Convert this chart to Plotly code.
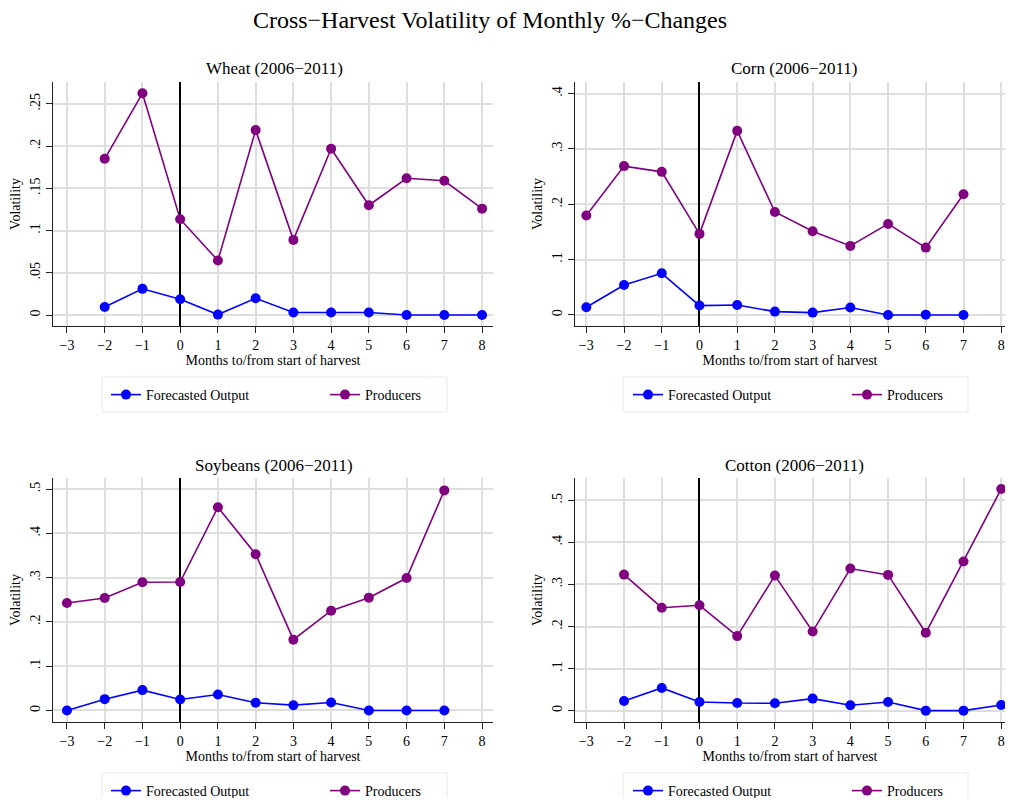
import plotly.graph_objects as go

# months relative to start of harvest
wheat_months = [-2, -1, 0, 1, 2, 3, 4, 5, 6, 7, 8]
wheat_forecast = [0.0095, 0.031, 0.0186, 0.0005, 0.0198, 0.003, 0.003, 0.003, 0.0, 0.0, 0.0]
wheat_producers = [0.185, 0.2626, 0.1135, 0.0645, 0.219, 0.089, 0.197, 0.130, 0.162, 0.159, 0.126]

corn_months = [-3, -2, -1, 0, 1, 2, 3, 4, 5, 6, 7]
corn_forecast = [0.0139, 0.0542, 0.0753, 0.0169, 0.018, 0.006, 0.0042, 0.0133, 0.0, 0.0005, 0.0]
corn_producers = [0.1796, 0.269, 0.2586, 0.1465, 0.3327, 0.186, 0.1513, 0.1248, 0.1645, 0.1217, 0.218]

soy_months = [-3, -2, -1, 0, 1, 2, 3, 4, 5, 6, 7]
soy_forecast = [0.0, 0.0256, 0.046, 0.0249, 0.036, 0.0173, 0.012, 0.018, 0.0, 0.0, 0.0]
soy_producers = [0.2428, 0.254, 0.2896, 0.290, 0.459, 0.353, 0.160, 0.2254, 0.2548, 0.299, 0.497]

cotton_months = [-2, -1, 0, 1, 2, 3, 4, 5, 6, 7, 8]
cotton_forecast = [0.023, 0.054, 0.0206, 0.018, 0.0174, 0.0286, 0.0127, 0.0206, 0.0, 0.0, 0.0135]
cotton_producers = [0.3234, 0.2447, 0.2504, 0.1772, 0.321, 0.188, 0.3377, 0.3227, 0.185, 0.3545, 0.527]

x_ticks = [-3, -2, -1, 0, 1, 2, 3, 4, 5, 6, 7, 8]
x_ticktext = ["\u22123", "\u22122", "\u22121", "0", "1", "2", "3", "4", "5", "6", "7", "8"]
wheat_yticks = [0, 0.05, 0.1, 0.15, 0.2, 0.25]
wheat_ytext = ["0", ".05", ".1", ".15", ".2", ".25"]
corn_yticks = [0, 0.1, 0.2, 0.3, 0.4]
corn_ytext = ["0", ".1", ".2", ".3", ".4"]
half_yticks = [0, 0.1, 0.2, 0.3, 0.4, 0.5]
half_ytext = ["0", ".1", ".2", ".3", ".4", ".5"]

# page body has an 8px margin all round, keep the figure inside the window
OFF = 8
W, H = 1013 - 2 * OFF, 806 - 2 * OFF
FONT = "Liberation Serif"
BLUE = "#0000ff"
PURPLE = "#800080"
GRID = "#dedede"


def px(x):
    return (x - OFF) / W


def py(y):
    return 1 - (y - OFF) / H


panels = [
    dict(title="Wheat (2006\u22122011)", months=wheat_months, fc=wheat_forecast, pr=wheat_producers,
         xdom=[53, 493], ydom=[82, 326], xr=[-3.37, 8.29], yr=[-0.013, 0.276],
         yt=wheat_yticks, ytt=wheat_ytext, title_y=69, legend_top=377),
    dict(title="Corn (2006\u22122011)", months=corn_months, fc=corn_forecast, pr=corn_producers,
         xdom=[575, 1005], ydom=[82, 326], xr=[-3.30, 8.1], yr=[-0.020, 0.421],
         yt=corn_yticks, ytt=corn_ytext, title_y=69, legend_top=377),
    dict(title="Soybeans (2006\u22122011)", months=soy_months, fc=soy_forecast, pr=soy_producers,
         xdom=[53, 493], ydom=[478, 722], xr=[-3.37, 8.29], yr=[-0.026, 0.525],
         yt=half_yticks, ytt=half_ytext, title_y=465, legend_top=773),
    dict(title="Cotton (2006\u22122011)", months=cotton_months, fc=cotton_forecast, pr=cotton_producers,
         xdom=[575, 1005], ydom=[478, 722], xr=[-3.30, 8.1], yr=[-0.027, 0.553],
         yt=half_yticks, ytt=half_ytext, title_y=465, legend_top=773),
]

fig = go.Figure()
layout = dict(
    width=W, height=H,
    margin=dict(l=0, r=0, t=0, b=0, autoexpand=False),
    paper_bgcolor="white", plot_bgcolor="white",
    font=dict(family=FONT, size=13, color="black"),
    title=dict(text="Cross\u2212Harvest Volatility of Monthly %\u2212Changes",
               x=px(490), xanchor="center", y=py(20), yanchor="middle",
               font=dict(size=24, family=FONT, color="black")),
    annotations=[], shapes=[],
)

for i, p in enumerate(panels):
    n = "" if i == 0 else str(i + 1)
    leg = "legend" + n
    xa, ya = "x" + n, "y" + n
    for name, vals, col in [("Forecasted Output", p["fc"], BLUE), ("Producers", p["pr"], PURPLE)]:
        fig.add_trace(go.Scatter(
            x=p["months"], y=vals, name=name, mode="lines+markers",
            xaxis=xa, yaxis=ya, legend=leg, cliponaxis=False,
            line=dict(color=col, width=1.6),
            marker=dict(color=col, size=10),
        ))

    layout["xaxis" + n] = dict(
        domain=[px(p["xdom"][0]), min(px(p["xdom"][1]), 1.0)], anchor=ya,
        range=p["xr"], tickvals=x_ticks, ticktext=x_ticktext, automargin=False,
        ticklabeloverflow="allow",
        showgrid=True, gridcolor=GRID, gridwidth=1.5,
        zeroline=True, zerolinecolor="black", zerolinewidth=1.5,
        showline=True, linecolor="#222", linewidth=1.3,
        ticks="outside", ticklen=6, tickcolor="#222",
        tickfont=dict(size=14, family=FONT),
        title=dict(text="Months to/from start of harvest", standoff=2,
                   font=dict(size=14, family=FONT)),
    )
    layout["yaxis" + n] = dict(
        domain=[py(p["ydom"][1]), py(p["ydom"][0])], anchor=xa,
        range=p["yr"], tickvals=p["yt"], ticktext=p["ytt"], tickangle=-90, automargin=False,
        showgrid=True, gridcolor=GRID, gridwidth=1.5, zeroline=False,
        showline=True, linecolor="#222", linewidth=1.3,
        ticks="outside", ticklen=6, tickcolor="#222",
        tickfont=dict(size=14, family=FONT),
        title=dict(text="Volatility", standoff=4, font=dict(size=14, family=FONT)),
    )
    layout[leg] = dict(
        orientation="h", x=px(p["xdom"][0] + 53), xanchor="left",
        y=py(p["legend_top"] + 2), yanchor="top",
        bgcolor="rgba(0,0,0,0)", borderwidth=0,
        entrywidth=174, font=dict(size=14, family=FONT),
    )
    # legend frame
    lx0 = 102 if p["xdom"][0] < 100 else 623
    layout["shapes"].append(dict(
        type="rect", xref="paper", yref="paper",
        x0=px(lx0), x1=px(lx0 + 345),
        y0=py(p["legend_top"] + 35), y1=py(p["legend_top"]),
        line=dict(color="#e3ebeb", width=1), fillcolor="rgba(0,0,0,0)",
    ))
    layout["annotations"].append(dict(
        text=p["title"], xref="paper", yref="paper",
        x=px(274 if p["xdom"][0] < 100 else 794), y=py(p["title_y"]),
        xanchor="center", yanchor="middle", showarrow=False,
        font=dict(size=17, family=FONT, color="black"),
    ))

fig.update_layout(**layout)
fig.write_html("out.html")
